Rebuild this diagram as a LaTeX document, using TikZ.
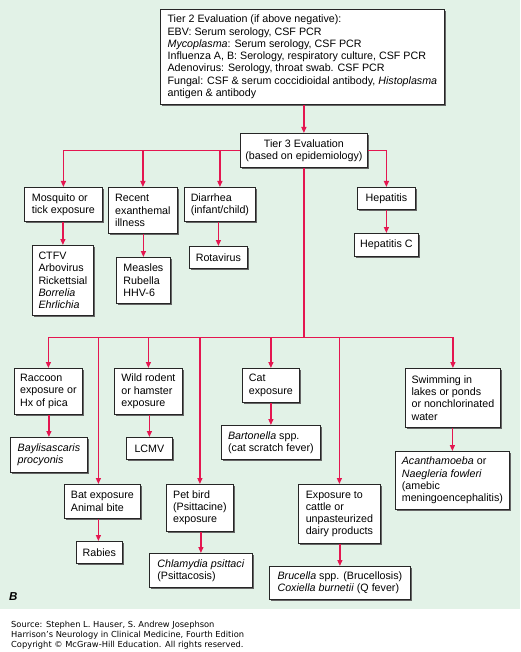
\documentclass[tikz,border=0pt]{standalone}
\usepackage{fontspec}
\setmainfont{Liberation Sans}
\newfontfamily\footfont{DejaVu Sans}
\usetikzlibrary{arrows.meta,shadows}
\definecolor{bg}{RGB}{226,242,231}
\definecolor{lnk}{RGB}{228,22,80}
\newcommand\mybox[7][]{%
  \pgfmathsetmacro\myW{#5-#3}%
  \pgfmathsetmacro\myH{#6-#4}%
  \node[box,#1,anchor=north west,minimum width=\myW pt,minimum height=\myH pt] (#2) at (#3,-#4) {#7};}
\begin{document}
\begin{tikzpicture}[x=1pt,y=1pt,
  box/.style={draw=black!85, line width=0.8pt, fill=white, align=left,
    font=\fontsize{10.7}{12.3}\selectfont, inner xsep=2pt, inner ysep=1pt,
    drop shadow={shadow xshift=1.5pt,shadow yshift=-1.5pt,fill=black!60,opacity=1}},
  arr/.style={draw=lnk, line width=1.3pt, -{Triangle[length=6pt,width=5pt]}},
  ln/.style={draw=lnk, line width=1.3pt}]
\useasboundingbox (0,0) rectangle (520,-652);
\fill[bg] (0,0) rectangle (520,-609);

\mybox{tier2}{160}{9}{444}{104}{Tier 2 Evaluation (if above negative):\\EBV: Serum serology, CSF PCR\\\textit{Mycoplasma}: Serum serology, CSF PCR\\Influenza A, B: Serology, respiratory culture, CSF PCR\\Adenovirus: Serology, throat swab. CSF PCR\\Fungal: CSF \& serum coccidioidal antibody, \textit{Histoplasma}\\antigen \& antibody}
\mybox[align=center]{tier3}{240}{133}{367}{167}{Tier 3 Evaluation\\(based on epidemiology)}

\mybox{mosq}{24}{187}{102}{221}{Mosquito or\\tick exposure}
\mybox{recent}{108}{187}{177}{233}{Recent\\exanthemal\\illness}
\mybox{diarr}{184}{187}{255}{221}{Diarrhea\\(infant/child)}
\mybox{hep}{357}{187}{415}{209}{Hepatitis}

\mybox{ctfv}{32}{245}{93}{315}{CTFV\\Arbovirus\\Rickettsial\\\textit{Borrelia}\\\textit{Ehrlichia}}
\mybox{measles}{116}{257}{170}{303}{Measles\\Rubella\\HHV-6}
\mybox{rota}{189}{246}{247}{268}{Rotavirus}
\mybox{hepc}{354}{233}{418}{256}{Hepatitis C}

\mybox{racc}{14}{368}{82}{414}{Raccoon\\exposure or\\Hx of pica}
\mybox{rodent}{114}{368}{182}{414}{Wild rodent\\or hamster\\exposure}
\mybox{cat}{242}{368}{299}{402}{Cat\\exposure}
\mybox{swim}{405}{368}{500}{427}{Swimming in\\lakes or ponds\\or nonchlorinated\\water}

\mybox{bayl}{10}{437}{87}{472}{\textit{Baylisascaris}\\\textit{procyonis}}
\mybox{lcmv}{126}{437}{172}{459}{LCMV}
\mybox{bart}{221}{425}{320}{459}{\textit{Bartonella} spp.\\(cat scratch fever)}
\mybox{acan}{395}{451}{509}{509}{\textit{Acanthamoeba} or\\\textit{Naegleria fowleri}\\(amebic\\meningoencephalitis)}

\mybox{bat}{64}{484}{140}{518}{Bat exposure\\Animal bite}
\mybox{rabies}{76}{541}{122}{563}{Rabies}
\mybox{pet}{166}{484}{233}{531}{Pet bird\\(Psittacine)\\exposure}
\mybox{chlam}{149}{553}{252}{587}{\textit{Chlamydia psittaci}\\(Psittacosis)}
\mybox{cattle}{298}{484}{380}{543}{Exposure to\\cattle or\\unpasteurized\\dairy products}
\mybox{bruc}{269}{566}{410}{599}{\textit{Brucella} spp. (Brucellosis)\\\textit{Coxiella burnetii} (Q fever)}

% connectors
\draw[arr] (tier2.south -| tier3.north) -- (tier3.north);
\draw[arr] (tier3.west) -| (mosq.north);
\draw[arr] (tier3.west) -| (recent.north);
\draw[arr] (tier3.west) -| (diarr.north);
\draw[arr] (tier3.east) -| (hep.north);

\draw[arr] (mosq.south -| ctfv.north) -- (ctfv.north);
\draw[arr] (recent.south -| measles.north) -- (measles.north);
\draw[arr] (diarr.south -| rota.north) -- (rota.north);
\draw[arr] (hep.south -| hepc.north) -- (hepc.north);

\path (tier3.south) ++(0,-170) coordinate (bus);
\draw[ln] (tier3.south) -- (bus);
\draw[arr] (bus) -| (racc.north);
\draw[arr] (bus) -| ([xshift=-4pt]bat.north);
\draw[arr] (bus) -| (rodent.north);
\draw[arr] (bus) -| (pet.north);
\draw[arr] (bus) -| (cat.north);
\draw[arr] (bus) -| (cattle.north);
\draw[arr] (bus) -| (swim.north);

\draw[arr] (racc.south -| bayl.north) -- (bayl.north);
\draw[arr] (rodent.south -| lcmv.north) -- (lcmv.north);
\draw[arr] (cat.south -| bart.north) -- (bart.north);
\draw[arr] (swim.south -| acan.north) -- (acan.north);
\draw[arr] ([xshift=-4pt]bat.south) -- ([xshift=-4pt]bat.south |- rabies.north);
\draw[arr] (pet.south -| chlam.north) -- (chlam.north);
\draw[arr] (cattle.south -| bruc.north) -- (bruc.north);

\node[font=\bfseries\itshape\fontsize{11.5}{12}\selectfont, anchor=west, inner sep=0pt] (lab) at (9,-597) {B};

\node[anchor=north west, align=left, inner sep=0pt, font=\footfont\fontsize{8.3}{10}\selectfont] (src) at (11,-621)
  {Source: Stephen L. Hauser, S. Andrew Josephson\\Harrison’s Neurology in Clinical Medicine, Fourth Edition\\Copyright © McGraw-Hill Education. All rights reserved.};
\end{tikzpicture}
\end{document}
